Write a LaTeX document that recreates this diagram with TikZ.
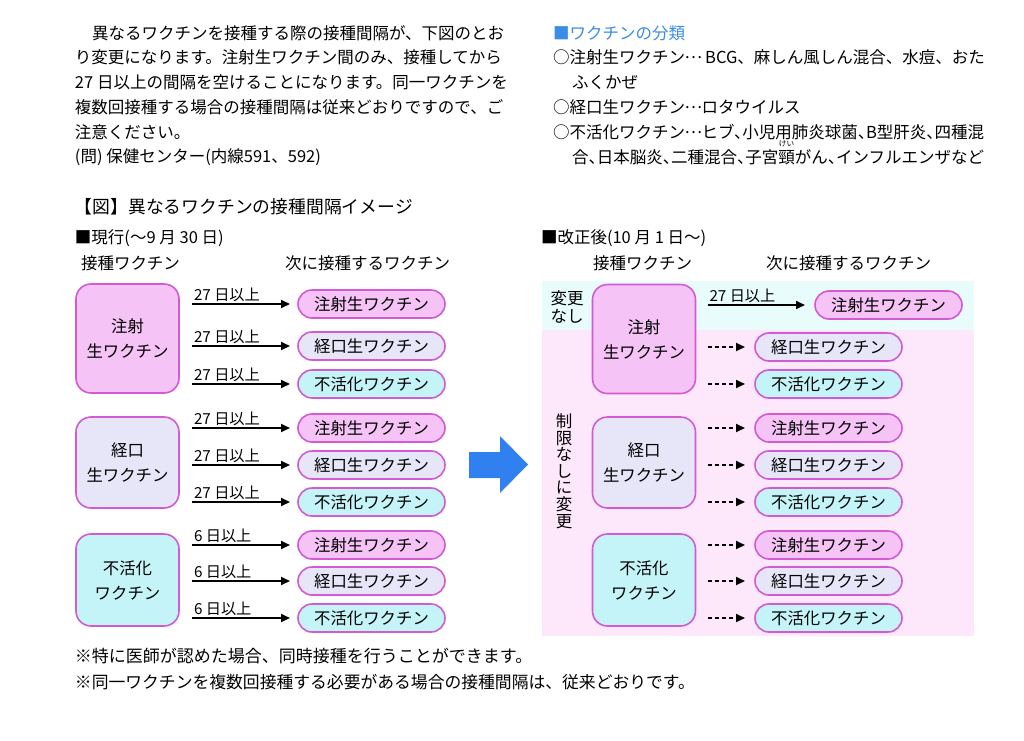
\documentclass[tikz,border=0pt]{standalone}
\usepackage{fontspec}
\setmainfont{Noto Sans CJK JP}
\newfontfamily\haltfont[RawFeature=+halt]{Noto Sans CJK JP}
\usetikzlibrary{positioning,arrows.meta}

\definecolor{injfill}{HTML}{F5C3F5}
\definecolor{orafill}{HTML}{E6E6F8}
\definecolor{inafill}{HTML}{C4F4F8}
\definecolor{boxline}{HTML}{D25AD2}
\definecolor{bandcyan}{HTML}{E8FCFC}
\definecolor{bandpink}{HTML}{FDE8FB}
\definecolor{bigblue}{HTML}{3080F0}
\definecolor{headblue}{HTML}{3C8CE6}

\newcommand\furigana[2]{\leavevmode\rlap{\makebox[1em]{\raisebox{1.0em}[0pt][0pt]{\fontsize{3.8}{4}\selectfont #2}}}#1}
\newcommand\jdots{\makebox[1em]{\raisebox{0.3em}{…}}}

\begin{document}
\begin{tikzpicture}
[x=0.5pt,y=-0.5pt,
 every node/.style={inner sep=0pt,outer sep=0pt},
 txt/.style={anchor=west,font=\fontsize{8.25}{10}\selectfont},
 src/.style={draw=boxline,thick,rounded corners=7.5pt,minimum width=51.5pt,align=center,font=\fontsize{8.2}{12.5}\selectfont},
 pill/.style={draw=boxline,thick,rounded corners=7pt,minimum width=73.5pt,minimum height=14pt,font=\fontsize{8.2}{10}\selectfont},
 inj/.style={fill=injfill},
 ora/.style={fill=orafill},
 ina/.style={fill=inafill},
 lbl/.style={anchor=south west,inner sep=1pt,font=\fontsize{7.6}{9}\selectfont},
 arr/.style={-{Triangle[length=4.5pt,width=4pt]},line width=0.9pt},
 darr/.style={arr,dash pattern=on 2pt off 1.6pt}]
\path[use as bounding box,fill=white] (0,0) rectangle (1024,740);

% intro text
\node[txt] (p1) at (92,33)  {異なるワクチンを接種する際の接種間隔が、下図のとお};
\node[txt] (p2) at (75,57)  {り変更になります。注射生ワクチン間のみ、接種してから};
\node[txt] (p3) at (75,82)  {27 日以上の間隔を空けることになります。同一ワクチンを};
\node[txt] (p4) at (75,107) {複数回接種する場合の接種間隔は従来どおりですので、ご};
\node[txt] (p5) at (75,132) {注意ください。};
\node[txt] (p6) at (75,157) {(問) 保健センター(内線591、592)};

\node[txt,text=headblue] (cls) at (553,33) {■ワクチンの分類};
\node[txt] (c1)  at (553,57)  {○注射生ワクチン\jdots\ BCG、麻しん風しん混合、水痘、おた};
\node[txt] (c1b) at (572,82)  {ふくかぜ};
\node[txt] (c2)  at (553,107) {○経口生ワクチン\jdots ロタウイルス};
\node[txt] (c3)  at (553,132) {\haltfont ○不活化ワクチン\jdots ヒブ、小児用肺炎球菌、B型肝炎、四種混};
\node[txt] (c3b) at (572,157) {\haltfont 合、日本脳炎、二種混合、子宮\furigana{頸}{けい}がん、インフルエンザなど};

% headings
\node[txt,font=\fontsize{8.9}{10}\selectfont] (title) at (75,207) {【図】異なるワクチンの接種間隔イメージ};
\node[txt] (nowh)  at (75,238)  {■現行(～9 月 30 日)};
\node[txt] (newh)  at (541,238) {■改正後(10 月 1 日～)};
\node[txt] (lsrc)  at (81,263)  {接種ワクチン};
\node[txt] (lnext) at (285,263) {次に接種するワクチン};
\node[txt] (rsrc)  at (593,263) {接種ワクチン};
\node[txt] (rnext) at (766,263) {次に接種するワクチン};

% current rules
\node[src,inj,minimum height=54.5pt] (la) at (127.5,338.5) {注射\\生ワクチン};
\node[src,ora,minimum height=45.5pt] (lb) at (127.5,462.5) {経口\\生ワクチン};
\node[src,ina,minimum height=46pt]   (lc) at (127.5,580)   {不活化\\ワクチン};

\node[pill,inj] (l1) at (371.5,304) {注射生ワクチン};
\node[pill,ora] (l2) at (371.5,346) {経口生ワクチン};
\node[pill,ina] (l3) at (371.5,384) {不活化ワクチン};
\node[pill,inj] (l4) at (371.5,428) {注射生ワクチン};
\node[pill,ora] (l5) at (371.5,465) {経口生ワクチン};
\node[pill,ina] (l6) at (371.5,502) {不活化ワクチン};
\node[pill,inj] (l7) at (371.5,545) {注射生ワクチン};
\node[pill,ora] (l8) at (371.5,581) {経口生ワクチン};
\node[pill,ina] (l9) at (371.5,618) {不活化ワクチン};

\draw[arr] ([xshift=6.5pt]la.east |- l1) -- ([xshift=-4pt]l1.west) node[lbl,pos=0] {27 日以上};
\draw[arr] ([xshift=6.5pt]la.east |- l2) -- ([xshift=-4pt]l2.west) node[lbl,pos=0] {27 日以上};
\draw[arr] ([xshift=6.5pt]la.east |- l3) -- ([xshift=-4pt]l3.west) node[lbl,pos=0] {27 日以上};
\draw[arr] ([xshift=6.5pt]lb.east |- l4) -- ([xshift=-4pt]l4.west) node[lbl,pos=0] {27 日以上};
\draw[arr] ([xshift=6.5pt]lb.east |- l5) -- ([xshift=-4pt]l5.west) node[lbl,pos=0] {27 日以上};
\draw[arr] ([xshift=6.5pt]lb.east |- l6) -- ([xshift=-4pt]l6.west) node[lbl,pos=0] {27 日以上};
\draw[arr] ([xshift=6.5pt]lc.east |- l7) -- ([xshift=-4pt]l7.west) node[lbl,pos=0] {6 日以上};
\draw[arr] ([xshift=6.5pt]lc.east |- l8) -- ([xshift=-4pt]l8.west) node[lbl,pos=0] {6 日以上};
\draw[arr] ([xshift=6.5pt]lc.east |- l9) -- ([xshift=-4pt]l9.west) node[lbl,pos=0] {6 日以上};

% big arrow
\fill[bigblue] (469,452) -- (500,452) -- (500,436) -- (528,464.5) -- (500,493) -- (500,478) -- (469,478) -- cycle;

% revised rules
\fill[bandcyan] (542,281) rectangle (974,330);
\fill[bandpink] (542,330) rectangle (974,636);
\node[align=center,font=\fontsize{8.25}{9}\selectfont] (same) at (567,307) {変更\\なし};
\node[align=center,font=\fontsize{8.25}{8.3}\selectfont] (free) at (564,471) {制\\限\\な\\し\\に\\変\\更};

\node[src,inj,minimum height=54.5pt] (ra) at (644,339)   {注射\\生ワクチン};
\node[src,ora,minimum height=45.5pt] (rb) at (644,462.5) {経口\\生ワクチン};
\node[src,ina,minimum height=46pt]   (rc) at (644,580)   {不活化\\ワクチン};

\node[pill,inj] (r1) at (888.5,305) {注射生ワクチン};
\node[pill,ora] (r2) at (828.5,347) {経口生ワクチン};
\node[pill,ina] (r3) at (828.5,384) {不活化ワクチン};
\node[pill,inj] (r4) at (828.5,428) {注射生ワクチン};
\node[pill,ora] (r5) at (828.5,465) {経口生ワクチン};
\node[pill,ina] (r6) at (828.5,502) {不活化ワクチン};
\node[pill,inj] (r7) at (828.5,545) {注射生ワクチン};
\node[pill,ora] (r8) at (828.5,581) {経口生ワクチン};
\node[pill,ina] (r9) at (828.5,618) {不活化ワクチン};

\draw[arr]  ([xshift=6pt]ra.east |- r1) -- ([xshift=-5pt]r1.west) node[lbl,pos=0] {27 日以上};
\draw[darr] ([xshift=6pt]ra.east |- r2) -- ([xshift=-5pt]r2.west);
\draw[darr] ([xshift=6pt]ra.east |- r3) -- ([xshift=-5pt]r3.west);
\draw[darr] ([xshift=6pt]rb.east |- r4) -- ([xshift=-5pt]r4.west);
\draw[darr] ([xshift=6pt]rb.east |- r5) -- ([xshift=-5pt]r5.west);
\draw[darr] ([xshift=6pt]rb.east |- r6) -- ([xshift=-5pt]r6.west);
\draw[darr] ([xshift=6pt]rc.east |- r7) -- ([xshift=-5pt]r7.west);
\draw[darr] ([xshift=6pt]rc.east |- r8) -- ([xshift=-5pt]r8.west);
\draw[darr] ([xshift=6pt]rc.east |- r9) -- ([xshift=-5pt]r9.west);

% notes
\node[txt,font=\fontsize{8.5}{10}\selectfont] (n1) at (75,656) {※特に医師が認めた場合、同時接種を行うことができます。};
\node[txt,font=\fontsize{8.4}{10}\selectfont] (n2) at (75,682) {※同一ワクチンを複数回接種する必要がある場合の接種間隔は、従来どおりです。};
\end{tikzpicture}
\end{document}
